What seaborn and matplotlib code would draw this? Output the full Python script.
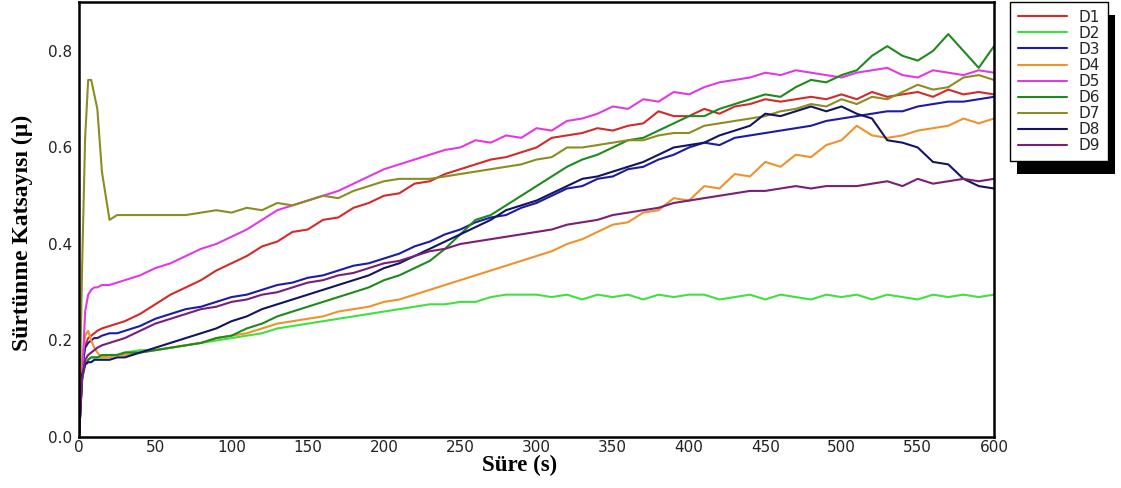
import matplotlib
matplotlib.use("Agg")
import matplotlib.pyplot as plt
from matplotlib.patches import Rectangle
import pandas as pd
import seaborn as sns

# Sampling times (s)
time_s = [0, 2, 4, 6, 8, 10, 12, 15, 20, 25,
          30, 40, 50, 60, 70, 80, 90, 100, 110, 120,
          130, 140, 150, 160, 170, 180, 190, 200, 210, 220,
          230, 240, 250, 260, 270, 280, 290, 300, 310, 320,
          330, 340, 350, 360, 370, 380, 390, 400, 410, 420,
          430, 440, 450, 460, 470, 480, 490, 500, 510, 520,
          530, 540, 550, 560, 570, 580, 590, 600]

# Friction coefficient for each sample
d1 = [0.0, 0.15, 0.19, 0.205, 0.21, 0.215, 0.22, 0.225, 0.23, 0.235,
      0.24, 0.255, 0.275, 0.295, 0.31, 0.325, 0.345, 0.36, 0.375, 0.395,
      0.405, 0.425, 0.43, 0.45, 0.455, 0.475, 0.485, 0.50, 0.505, 0.525,
      0.53, 0.545, 0.555, 0.565, 0.575, 0.58, 0.59, 0.60, 0.62, 0.625,
      0.63, 0.64, 0.635, 0.645, 0.65, 0.675, 0.665, 0.665, 0.68, 0.67,
      0.685, 0.69, 0.70, 0.695, 0.70, 0.705, 0.70, 0.71, 0.70, 0.715,
      0.705, 0.71, 0.715, 0.705, 0.72, 0.71, 0.715, 0.71]
d2 = [0.0, 0.12, 0.15, 0.16, 0.165, 0.165, 0.165, 0.165, 0.17, 0.17,
      0.175, 0.18, 0.18, 0.185, 0.19, 0.195, 0.20, 0.205, 0.21, 0.215,
      0.225, 0.23, 0.235, 0.24, 0.245, 0.25, 0.255, 0.26, 0.265, 0.27,
      0.275, 0.275, 0.28, 0.28, 0.29, 0.295, 0.295, 0.295, 0.29, 0.295,
      0.285, 0.295, 0.29, 0.295, 0.285, 0.295, 0.29, 0.295, 0.295, 0.285,
      0.29, 0.295, 0.285, 0.295, 0.29, 0.285, 0.295, 0.29, 0.295, 0.285,
      0.295, 0.29, 0.285, 0.295, 0.29, 0.295, 0.29, 0.295]
d3 = [0.0, 0.14, 0.185, 0.195, 0.20, 0.205, 0.205, 0.21, 0.215, 0.215,
      0.22, 0.23, 0.245, 0.255, 0.265, 0.27, 0.28, 0.29, 0.295, 0.305,
      0.315, 0.32, 0.33, 0.335, 0.345, 0.355, 0.36, 0.37, 0.38, 0.395,
      0.405, 0.42, 0.43, 0.445, 0.455, 0.46, 0.475, 0.485, 0.50, 0.515,
      0.52, 0.535, 0.54, 0.555, 0.56, 0.575, 0.585, 0.60, 0.61, 0.605,
      0.62, 0.625, 0.63, 0.635, 0.64, 0.645, 0.655, 0.66, 0.665, 0.67,
      0.675, 0.675, 0.685, 0.69, 0.695, 0.695, 0.70, 0.705]
d4 = [0.0, 0.16, 0.21, 0.22, 0.20, 0.185, 0.175, 0.165, 0.165, 0.17,
      0.17, 0.175, 0.18, 0.185, 0.19, 0.195, 0.205, 0.21, 0.215, 0.225,
      0.235, 0.24, 0.245, 0.25, 0.26, 0.265, 0.27, 0.28, 0.285, 0.295,
      0.305, 0.315, 0.325, 0.335, 0.345, 0.355, 0.365, 0.375, 0.385, 0.40,
      0.41, 0.425, 0.44, 0.445, 0.465, 0.47, 0.495, 0.49, 0.52, 0.515,
      0.545, 0.54, 0.57, 0.56, 0.585, 0.58, 0.605, 0.615, 0.645, 0.625,
      0.62, 0.625, 0.635, 0.64, 0.645, 0.66, 0.65, 0.66]
d5 = [0.0, 0.12, 0.26, 0.295, 0.305, 0.31, 0.31, 0.315, 0.315, 0.32,
      0.325, 0.335, 0.35, 0.36, 0.375, 0.39, 0.40, 0.415, 0.43, 0.45,
      0.47, 0.48, 0.49, 0.50, 0.51, 0.525, 0.54, 0.555, 0.565, 0.575,
      0.585, 0.595, 0.60, 0.615, 0.61, 0.625, 0.62, 0.64, 0.635, 0.655,
      0.66, 0.67, 0.685, 0.68, 0.70, 0.695, 0.715, 0.71, 0.725, 0.735,
      0.74, 0.745, 0.755, 0.75, 0.76, 0.755, 0.75, 0.745, 0.755, 0.76,
      0.765, 0.75, 0.745, 0.76, 0.755, 0.75, 0.76, 0.755]
d6 = [0.0, 0.12, 0.15, 0.16, 0.165, 0.165, 0.165, 0.17, 0.17, 0.17,
      0.175, 0.175, 0.18, 0.185, 0.19, 0.195, 0.205, 0.21, 0.225, 0.235,
      0.25, 0.26, 0.27, 0.28, 0.29, 0.30, 0.31, 0.325, 0.335, 0.35,
      0.365, 0.39, 0.42, 0.45, 0.46, 0.48, 0.50, 0.52, 0.54, 0.56,
      0.575, 0.585, 0.60, 0.615, 0.62, 0.635, 0.65, 0.665, 0.665, 0.68,
      0.69, 0.70, 0.71, 0.705, 0.725, 0.74, 0.735, 0.75, 0.76, 0.79,
      0.81, 0.79, 0.78, 0.80, 0.835, 0.80, 0.765, 0.81]
d7 = [0.0, 0.35, 0.62, 0.74, 0.74, 0.71, 0.68, 0.55, 0.45, 0.46,
      0.46, 0.46, 0.46, 0.46, 0.46, 0.465, 0.47, 0.465, 0.475, 0.47,
      0.485, 0.48, 0.49, 0.50, 0.495, 0.51, 0.52, 0.53, 0.535, 0.535,
      0.535, 0.54, 0.545, 0.55, 0.555, 0.56, 0.565, 0.575, 0.58, 0.60,
      0.60, 0.605, 0.61, 0.615, 0.615, 0.625, 0.63, 0.63, 0.645, 0.65,
      0.655, 0.66, 0.665, 0.675, 0.68, 0.69, 0.685, 0.70, 0.69, 0.705,
      0.70, 0.715, 0.73, 0.72, 0.725, 0.745, 0.75, 0.74]
d8 = [0.0, 0.13, 0.15, 0.155, 0.155, 0.16, 0.16, 0.16, 0.16, 0.165,
      0.165, 0.175, 0.185, 0.195, 0.205, 0.215, 0.225, 0.24, 0.25, 0.265,
      0.275, 0.285, 0.295, 0.305, 0.315, 0.325, 0.335, 0.35, 0.36, 0.375,
      0.39, 0.405, 0.42, 0.435, 0.45, 0.47, 0.48, 0.49, 0.505, 0.52,
      0.535, 0.54, 0.55, 0.56, 0.57, 0.585, 0.60, 0.605, 0.61, 0.625,
      0.635, 0.645, 0.67, 0.665, 0.675, 0.685, 0.675, 0.685, 0.67, 0.66,
      0.615, 0.61, 0.60, 0.57, 0.565, 0.535, 0.52, 0.515]
d9 = [0.0, 0.12, 0.16, 0.17, 0.175, 0.18, 0.185, 0.19, 0.195, 0.20,
      0.205, 0.22, 0.235, 0.245, 0.255, 0.265, 0.27, 0.28, 0.285, 0.295,
      0.30, 0.31, 0.32, 0.325, 0.335, 0.34, 0.35, 0.36, 0.365, 0.375,
      0.385, 0.39, 0.40, 0.405, 0.41, 0.415, 0.42, 0.425, 0.43, 0.44,
      0.445, 0.45, 0.46, 0.465, 0.47, 0.475, 0.485, 0.49, 0.495, 0.50,
      0.505, 0.51, 0.51, 0.515, 0.52, 0.515, 0.52, 0.52, 0.52, 0.525,
      0.53, 0.52, 0.535, 0.525, 0.53, 0.535, 0.53, 0.535]

names = ["D1", "D2", "D3", "D4", "D5", "D6", "D7", "D8", "D9"]
series = [d1, d2, d3, d4, d5, d6, d7, d8, d9]
colors = ["#d42a2a", "#3ee23e", "#1c1ca8", "#f0922a", "#e23ae2",
          "#1e8a1e", "#8c8c22", "#141464", "#7a1e7a"]

x_ticks = [0, 50, 100, 150, 200, 250, 300, 350, 400, 450, 500, 550, 600]
y_ticks = [0.0, 0.2, 0.4, 0.6, 0.8]

frames = []
for name, vals in zip(names, series):
    frames.append(pd.DataFrame({"t": time_s, "mu": vals, "sample": name}))
df = pd.concat(frames, ignore_index=True)

sns.set_theme(style="white")
plt.rcParams["font.family"] = ["DejaVu Sans"]

fig = plt.figure(figsize=(11.21, 4.88), dpi=100)
ax = fig.add_axes([0.0705, 0.1045, 0.8162, 0.8914])

sns.lineplot(data=df, x="t", y="mu", hue="sample", hue_order=names,
             palette=dict(zip(names, colors)), estimator=None,
             linewidth=1.5, ax=ax)

ax.set_xlim(0, 600)
ax.set_ylim(0, 0.9015)
ax.set_xticks(x_ticks)
ax.set_yticks(y_ticks)
ax.set_yticklabels([f"{v:.1f}" for v in y_ticks])
ax.tick_params(axis="both", length=0, labelsize=11, colors="#222222")
ax.tick_params(axis="y", pad=5)
ax.tick_params(axis="x", pad=2)
for side in ["left", "bottom", "top", "right"]:
    ax.spines[side].set_color("black")
    ax.spines[side].set_linewidth(1.8)

ax.set_xlabel("Süre (s)", fontfamily="Liberation Serif", fontweight="bold",
              fontsize=16.5, color="black")
ax.set_ylabel("Sürtünme Katsayısı (µ)", fontfamily="Liberation Serif",
              fontweight="bold", fontsize=17, color="black")
ax.xaxis.set_label_coords(0.482, -0.042)
ax.yaxis.set_label_coords(-0.05, 0.47)

handles, labels = ax.get_legend_handles_labels()
leg = ax.legend(handles, labels, loc="upper left",
                bbox_to_anchor=(1010 / 1121, 1 - 2 / 488),
                bbox_transform=fig.transFigure, frameon=True, fancybox=False,
                fontsize=11, handlelength=3.2, handletextpad=0.8,
                labelspacing=0.07, borderpad=0.5, borderaxespad=0)
leg.get_frame().set_edgecolor("black")
leg.get_frame().set_linewidth(1.0)
leg.get_frame().set_facecolor("white")
leg.get_frame().set_alpha(1.0)
for line in leg.get_lines():
    line.set_linewidth(1.5)

# solid drop shadow behind the legend box
fig.canvas.draw()
bb = leg.get_window_extent()
shadow = Rectangle((bb.x0 + 7, bb.y0 - 13), bb.width, bb.height,
                   transform=None, facecolor="black", edgecolor="none",
                   zorder=-1)
fig.patches.append(shadow)

fig.savefig("out.png", dpi=100, facecolor="white")
